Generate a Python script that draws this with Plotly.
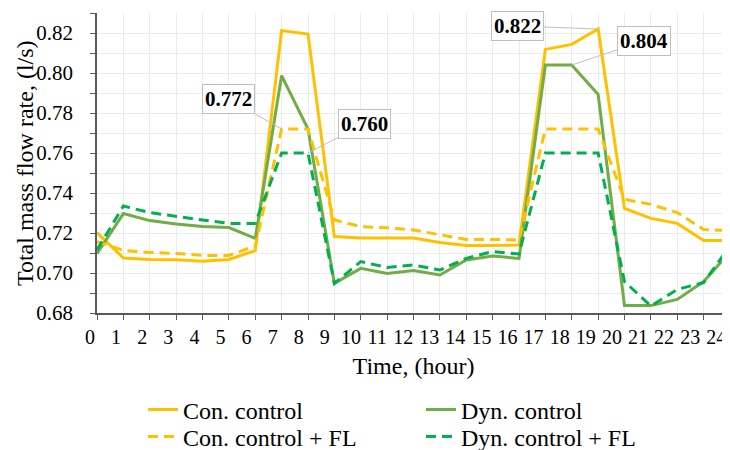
import plotly.graph_objects as go

hours = list(range(25))
tick_labels = [str(h) for h in hours]

con = [0.7202, 0.7075, 0.7067, 0.7066, 0.7059, 0.7068, 0.7112, 0.8212, 0.8195,
       0.7182, 0.7175, 0.7175, 0.7175, 0.7153, 0.7138, 0.7138, 0.7140, 0.8118,
       0.8143, 0.8220, 0.7323, 0.7273, 0.7248, 0.7163, 0.7163]
con_fl = [0.7157, 0.7113, 0.7103, 0.7098, 0.7088, 0.7088, 0.7135, 0.7720, 0.7720,
          0.7265, 0.7232, 0.7226, 0.7215, 0.7190, 0.7168, 0.7168, 0.7165, 0.7720,
          0.7720, 0.7720, 0.7368, 0.7343, 0.7302, 0.7218, 0.7212]
dyn = [0.7097, 0.7297, 0.7262, 0.7245, 0.7232, 0.7227, 0.7173, 0.7987, 0.7720,
       0.6948, 0.7023, 0.6998, 0.7012, 0.6990, 0.7065, 0.7085, 0.7073, 0.8040,
       0.8040, 0.7893, 0.6837, 0.6837, 0.6868, 0.6957, 0.7105]
dyn_fl = [0.7115, 0.7335, 0.7302, 0.7282, 0.7265, 0.7248, 0.7248, 0.7600, 0.7600,
          0.6948, 0.7057, 0.7028, 0.7040, 0.7015, 0.7073, 0.7107, 0.7095, 0.7600,
          0.7600, 0.7600, 0.6957, 0.6835, 0.6918, 0.6952, 0.7135]

y_tickvals = [0.68, 0.70, 0.72, 0.74, 0.76, 0.78, 0.80, 0.82]
y_ticktext = ["0.68", "0.70", "0.72", "0.74", "0.76", "0.78", "0.80", "0.82"]
y_minorvals = [0.69, 0.71, 0.73, 0.75, 0.77, 0.79, 0.81, 0.83]

series = [
    ("Con. control", con, "#FFC000", "solid", "legend"),
    ("Dyn. control", dyn, "#70AD47", "solid", "legend"),
    ("Con. control + FL", con_fl, "#FFC000", "10px,6px", "legend2"),
    ("Dyn. control + FL", dyn_fl, "#00B050", "10px,6px", "legend2"),
]

# callouts: (hour, value, text, ax, ay)
callouts = [
    (7, 0.772, "0.772", -53, -30),
    (8, 0.760, "0.760", 56, -29),
    (19, 0.822, "0.822", -81, -3),
    (18, 0.804, "0.804", 72, -24),
]

FONT = "Liberation Serif, Times New Roman, serif"
LABEL_SPACING = 0.9894  # hour labels sit slightly tighter than the tick marks

fig = go.Figure()
for name, vals, color, dash, lg in series:
    fig.add_trace(go.Scatter(x=hours, y=vals, mode="lines", name=name, legend=lg,
                             line=dict(color=color, width=3, dash=dash)))

for h, v, txt, ax, ay in callouts:
    fig.add_annotation(x=h, y=v, text="<b>%s</b>" % txt, showarrow=True,
                       arrowhead=0, arrowwidth=1, arrowcolor="#bfbfbf",
                       ax=ax, ay=ay, bgcolor="white", bordercolor="#bfbfbf",
                       borderwidth=1, borderpad=2,
                       font=dict(family=FONT, size=21, color="black"))

# y-axis title as rotated annotation
fig.add_annotation(xref="paper", yref="paper", x=-0.1137, y=0.5,
                   text="Total mass flow rate, (l/s)", textangle=-90,
                   showarrow=False, xanchor="center", yanchor="middle",
                   font=dict(family=FONT, size=24, color="black"))

leg_common = dict(orientation="h", x=0.0727, xanchor="left", yanchor="middle",
                  font=dict(family=FONT, size=24), entrywidth=233,
                  entrywidthmode="pixels", itemwidth=30, bgcolor="rgba(0,0,0,0)")

fig.update_layout(
    width=730, height=442,
    margin=dict(l=89, r=8, t=5, b=137, autoexpand=False),
    paper_bgcolor="white", plot_bgcolor="white",
    font=dict(family=FONT, color="black"),
    showlegend=True,
    legend=dict(y=-0.3233, **leg_common),
    legend2=dict(y=-0.4133, **leg_common),
)

fig.update_xaxes(
    range=[0, 24], tickmode="array",
    tickvals=[h * LABEL_SPACING for h in hours], ticktext=tick_labels,
    tickangle=0, ticks="", showgrid=False,
    minor=dict(tickmode="array", tickvals=hours, ticks="outside", ticklen=5,
               tickcolor="#595959", showgrid=True, gridcolor="#ebebeb"),
    showline=True, linecolor="#595959", linewidth=1.5,
    tickfont=dict(family=FONT, size=20), ticklabelshift=-7,
    ticklabelstandoff=5,
    ticklabeloverflow="allow",
    title=dict(text="Time, (hour)", font=dict(family=FONT, size=24), standoff=10),
    zeroline=False,
)
fig.update_yaxes(
    range=[0.68, 0.83], tickmode="array",
    tickvals=y_tickvals, ticktext=y_ticktext,
    showgrid=True, gridcolor="#ebebeb", gridwidth=1,
    minor=dict(tickmode="array", tickvals=y_minorvals,
               ticks="outside", ticklen=5, tickcolor="#595959",
               showgrid=True, gridcolor="#ebebeb"),
    showline=True, linecolor="#595959", linewidth=1.5,
    ticks="outside", ticklen=5, tickcolor="#595959",
    tickfont=dict(family=FONT, size=21), ticklabelstandoff=13,
    zeroline=False,
)

fig.write_html("out.html")
